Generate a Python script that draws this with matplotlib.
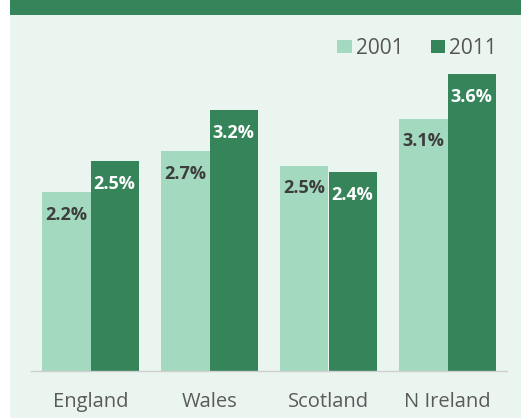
import matplotlib
matplotlib.use("Agg")
import matplotlib.pyplot as plt
from matplotlib.patches import Rectangle
import numpy as np

regions = ["England", "Wales", "Scotland", "N Ireland"]
years = ["2001", "2011"]
share_2001 = [2.17, 2.67, 2.49, 3.06]
share_2011 = [2.54, 3.16, 2.41, 3.60]

light = "#a3d9bf"
dark = "#35845a"
panel = "#ebf5f0"

plt.rcParams["font.family"] = ["Open Sans", "DejaVu Sans"]

fig = plt.figure(figsize=(5.21, 4.19), dpi=100)
W, H = 521, 419
# background panel and top band
fig.patches.append(Rectangle((10 / W, 1 / H), 511 / W, 403 / H, transform=fig.transFigure,
                             facecolor=panel, edgecolor="none", zorder=-2))
fig.patches.append(Rectangle((10 / W, (H - 15) / H), 511 / W, 15 / H, transform=fig.transFigure,
                             facecolor=dark, edgecolor="none", zorder=-1))

ax = fig.add_axes([31 / W, 48 / H, 476 / W, 330 / H])
ax.set_facecolor("none")

x = np.arange(len(regions))
w = 0.405
b1 = ax.bar(x - w / 2, share_2001, w, color=light, label=years[0])
b2 = ax.bar(x + w / 2, share_2011, w, color=dark, label=years[1])

for bars, vals, col in [(b1, share_2001, "#3d3d3d"), (b2, share_2011, "white")]:
    for rect, v in zip(bars, vals):
        ax.annotate(f"{v:.1f}%", (rect.get_x() + rect.get_width() / 2, v),
                    xytext=(0, -16.5), textcoords="offset points",
                    ha="center", va="center", fontsize=13, fontweight="bold", color=col)

ax.set_xlim(-0.5, 3.5)
ax.set_ylim(0, 4)
ax.set_xticks(x)
ax.set_xticklabels(regions, fontsize=14.5, color="#5a5a5a")
ax.tick_params(axis="x", length=0, pad=15)
ax.set_yticks([])
for s in ["left", "right", "top"]:
    ax.spines[s].set_visible(False)
ax.spines["bottom"].set_color("#cfcfcf")
ax.spines["bottom"].set_linewidth(1)

leg = fig.legend(handles=[b1, b2], labels=years, loc="center right",
                 bbox_to_anchor=(497 / W, (H - 48) / H), ncol=2, frameon=False,
                 fontsize=15, handlelength=0.7, handleheight=0.6,
                 handletextpad=0.2, columnspacing=1.3, borderaxespad=0, borderpad=0)
for t in leg.get_texts():
    t.set_color("#555555")

plt.savefig("out.png", dpi=100)
plt.close()
